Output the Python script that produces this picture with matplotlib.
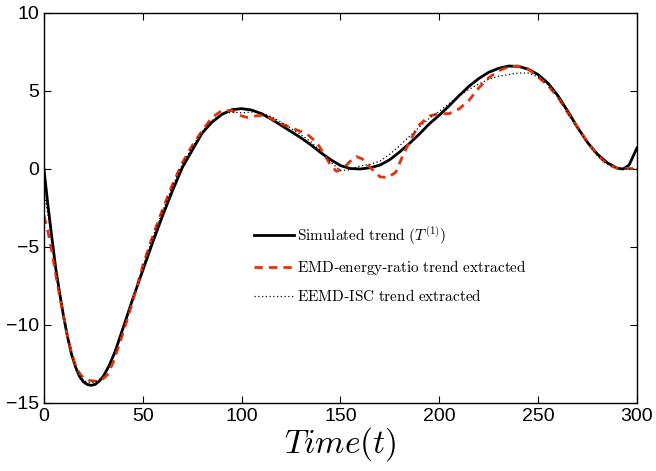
import numpy as np
import matplotlib
matplotlib.use("Agg")
import matplotlib.pyplot as plt

plt.rcParams['mathtext.fontset'] = 'cm'
plt.rcParams['font.family'] = ['Liberation Sans', 'DejaVu Sans']

# simulated trend T^(1)
t_sim = [0, 2, 4, 6, 8, 10, 12, 14, 16, 18, 20, 22, 24, 26, 28, 30, 33, 36, 40, 45,
         50, 55, 60, 65, 70, 75, 80, 85, 90, 95, 100, 105, 110, 115, 120, 125, 130,
         135, 140, 145, 150, 155, 160, 165, 170, 175, 180, 185, 190, 195, 200, 205,
         210, 215, 220, 225, 230, 235, 240, 245, 250, 255, 260, 265, 270, 275, 280,
         285, 290, 293, 296, 300]
v_sim = [0, -2.3, -4.4, -6.4, -8.0, -9.5, -10.8, -11.9, -12.7, -13.3, -13.65, -13.82,
         -13.87, -13.8, -13.6, -13.3, -12.6, -11.7, -10.2, -8.3, -6.5, -4.7, -3.0, -1.4,
         0.1, 1.2, 2.3, 3.0, 3.5, 3.8, 3.87, 3.78, 3.55, 3.2, 2.8, 2.4, 2.0, 1.55, 1.05,
         0.6, 0.22, 0.03, 0.0, 0.08, 0.25, 0.6, 1.1, 1.65, 2.25, 2.9, 3.45, 4.05, 4.7,
         5.3, 5.8, 6.2, 6.45, 6.6, 6.58, 6.4, 6.05, 5.5, 4.7, 3.7, 2.65, 1.7, 0.95, 0.4,
         0.05, 0.0, 0.25, 1.35]

# EMD-energy-ratio trend
t_emd = [0, 2, 4, 6, 8, 10, 12, 14, 16, 18, 20, 23, 26, 29, 32, 35, 38, 42, 46, 50,
         55, 60, 65, 70, 75, 80, 85, 90, 95, 100, 103, 107, 111, 115, 120, 126, 133,
         138, 142, 145, 148, 151, 155, 158, 161, 165, 170, 174, 178, 182, 186, 190,
         195, 200, 205, 210, 215, 220, 225, 230, 235, 240, 245, 250, 255, 260, 265,
         270, 275, 280, 285, 290, 295, 300]
v_emd = [-3.0, -4.0, -5.3, -6.8, -8.2, -9.5, -10.8, -11.8, -12.6, -13.1, -13.4, -13.55,
         -13.6, -13.55, -13.2, -12.4, -11.3, -9.7, -8.0, -6.2, -4.3, -2.6, -1.0, 0.4,
         1.5, 2.45, 3.3, 3.75, 3.75, 3.4, 3.3, 3.4, 3.45, 3.25, 2.9, 2.6, 2.25, 1.7,
         0.9, 0.25, -0.15, 0.0, 0.5, 0.8, 0.65, 0.1, -0.5, -0.55, -0.2, 1.0, 2.0, 2.85,
         3.4, 3.55, 3.55, 3.85, 4.4, 5.2, 5.85, 6.3, 6.55, 6.6, 6.4, 5.9, 5.35, 4.6,
         3.6, 2.65, 1.7, 0.9, 0.3, 0.05, 0.03, 0.03]

# EEMD-ISC trend
t_isc = [0, 2, 4, 6, 8, 10, 12, 14, 16, 18, 20, 23, 26, 29, 32, 36, 40, 45, 50, 55,
         60, 65, 70, 75, 80, 85, 90, 95, 100, 105, 110, 115, 120, 125, 130, 135, 140,
         145, 150, 155, 160, 165, 170, 175, 180, 185, 190, 195, 200, 205, 210, 215,
         220, 225, 230, 235, 240, 245, 250, 255, 260, 265, 270, 275, 280, 285, 290,
         295, 300]
v_isc = [-1.5, -2.9, -4.6, -6.4, -8.0, -9.5, -10.8, -11.9, -12.7, -13.2, -13.55, -13.7,
         -13.65, -13.4, -12.9, -11.8, -10.3, -8.3, -6.3, -4.4, -2.7, -1.1, 0.3, 1.4,
         2.4, 3.1, 3.5, 3.65, 3.6, 3.65, 3.6, 3.35, 3.0, 2.6, 2.2, 1.75, 1.15, 0.45,
         -0.1, -0.05, 0.2, 0.3, 0.5, 0.95, 1.5, 2.1, 2.7, 3.25, 3.7, 4.2, 4.7, 5.1,
         5.45, 5.75, 5.95, 6.05, 6.15, 6.15, 5.9, 5.4, 4.6, 3.6, 2.6, 1.65, 0.85, 0.3,
         0.05, 0.0, 0.0]

labels = [r'$\mathrm{Simulated\ trend\ }(T^{(1)})$',
          r'$\mathrm{EMD}$-$\mathrm{energy}$-$\mathrm{ratio\ trend\ extracted}$',
          r'$\mathrm{EEMD}$-$\mathrm{ISC\ trend\ extracted}$']

fig = plt.figure(figsize=(6.56, 4.71), dpi=100)
ax = fig.add_axes([0.067, 0.1444, 0.904, 0.828])

ax.plot(t_sim, v_sim, color='black', lw=2.0, label=labels[0])
ax.plot(t_emd, v_emd, color='#e0330f', lw=2.0, ls=(0, (3, 2.2)), label=labels[1])
ax.plot(t_isc, v_isc, color='black', lw=0.9, ls=(0, (1, 2)), label=labels[2])

ax.set_xlim(0, 300)
ax.set_ylim(-15, 10)
ax.set_xticks([0, 50, 100, 150, 200, 250, 300])
ax.set_yticks([-15, -10, -5, 0, 5, 10])
ax.tick_params(direction='in', top=True, right=True, labelsize=14, length=5, width=0.8)
for sp in ax.spines.values():
    sp.set_linewidth(1.0)
ax.set_xlabel(r'$Time(t)$', fontsize=24, labelpad=0)

ax.legend(loc='upper left', bbox_to_anchor=(0.366, 0.553), bbox_transform=fig.transFigure,
          frameon=False, fontsize=11, handlelength=2.6, handletextpad=0.2, labelspacing=0.75)

fig.savefig('out.png', dpi=100)
